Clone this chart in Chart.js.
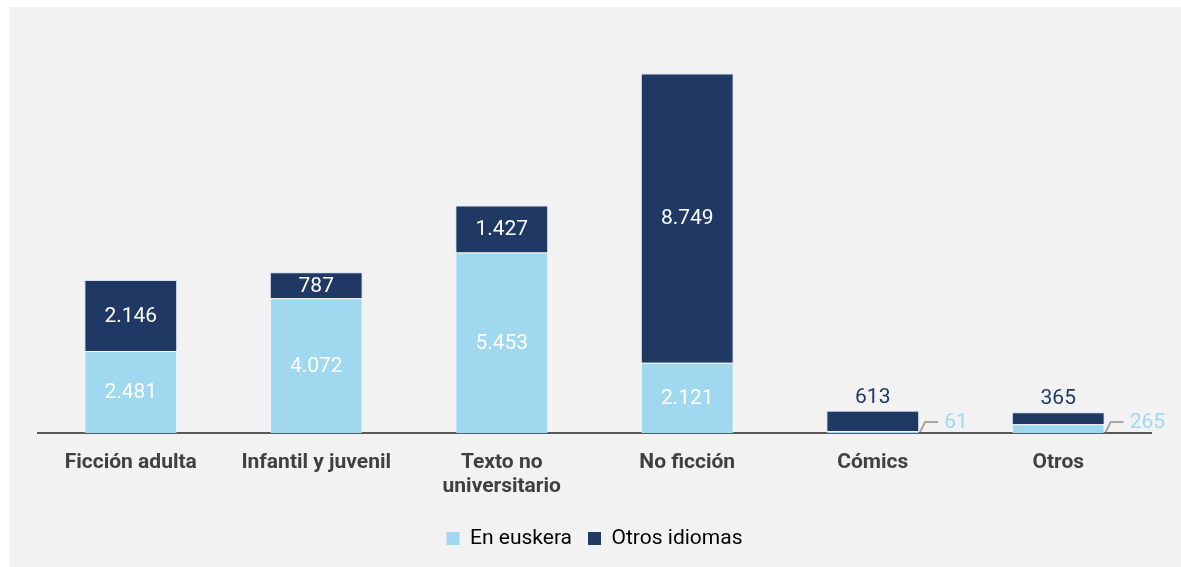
<!DOCTYPE html>
<html>
<head>
<meta charset="utf-8">
<script src="https://cdn.jsdelivr.net/npm/chart.js@4"></script>
<style>
  body { margin: 0; background: #ffffff; }
  #panel { position: absolute; left: 9px; top: 7px; right: 0; bottom: 0; background: #f2f2f2; }
  #wrap { position: absolute; left: 0; top: 0; width: 1181px; height: 567px; }
</style>
</head>
<body>
<div id="panel"></div>
<div id="wrap"><canvas id="myChart" width="1181" height="567"></canvas></div>
<script>
const categories = [
  "Ficción adulta",
  "Infantil y juvenil",
  ["Texto no", "universitario"],
  "No ficción",
  "Cómics",
  "Otros",
];
const enEuskera = [2481, 4072, 5453, 2121, 61, 265];
const otrosIdiomas = [2146, 787, 1427, 8749, 613, 365];
const seriesNames = ["En euskera", "Otros idiomas"];

const lightBlue = "#a0d8ef";
const navy = "#1f3864";

function formatNumber(n) {
  return String(n).replace(/\B(?=(\d{3})+(?!\d))/g, ".");
}

// draws the value labels, small segments go outside the bar
const valueLabels = {
  id: "valueLabels",
  afterDatasetsDraw(chart) {
    const ctx = chart.ctx;
    ctx.save();
    ctx.font = "21px Roboto";
    ctx.textAlign = "center";
    ctx.textBaseline = "middle";
    chart.data.datasets.forEach((ds, di) => {
      const meta = chart.getDatasetMeta(di);
      meta.data.forEach((bar, i) => {
        const value = ds.data[i];
        const text = formatNumber(value);
        const top = Math.min(bar.y, bar.base);
        const bottom = Math.max(bar.y, bar.base);
        const h = bottom - top;
        if (h >= 25) {
          ctx.fillStyle = "#ffffff";
          ctx.textAlign = "center";
          ctx.fillText(text, bar.x, (top + bottom) / 2 + 1);
        } else if (di === 1) {
          ctx.fillStyle = navy;
          ctx.textAlign = "center";
          ctx.fillText(text, bar.x, top - 13);
        } else {
          const right = bar.x + bar.width / 2;
          const axisY = chart.scales.y.getPixelForValue(0);
          const ly = axisY - 11;
          ctx.strokeStyle = "#a6a6a6";
          ctx.lineWidth = 2;
          ctx.beginPath();
          ctx.moveTo(right + 1, axisY - 1);
          ctx.lineTo(right + 6, ly);
          ctx.lineTo(right + 19, ly);
          ctx.stroke();
          ctx.fillStyle = lightBlue;
          ctx.textAlign = "left";
          ctx.fillText(text, right + 25, ly + 1);
        }
      });
    });
    ctx.restore();
  },
};

const ctx = document.getElementById("myChart");

new Chart(ctx, {
  type: "bar",
  data: {
    labels: categories,
    datasets: [
      {
        label: seriesNames[0],
        data: enEuskera,
        backgroundColor: lightBlue,
        borderColor: "rgba(255,255,255,0.35)",
        borderWidth: 1,
        barPercentage: 0.5,
        categoryPercentage: 1,
      },
      {
        label: seriesNames[1],
        data: otrosIdiomas,
        backgroundColor: navy,
        borderColor: "rgba(160,190,230,0.35)",
        borderWidth: 1,
        barPercentage: 0.5,
        categoryPercentage: 1,
      },
    ],
  },
  options: {
    responsive: false,
    animation: false,
    layout: {
      padding: { left: 38, right: 30, top: 36, bottom: 8 },
    },
    plugins: {
      tooltip: { enabled: false },
      legend: {
        position: "bottom",
        labels: {
          boxWidth: 13,
          boxHeight: 13,
          padding: 16,
          color: "#595959",
          font: { family: "Roboto", size: 21 },
          generateLabels(chart) {
            return chart.data.datasets.map((ds, i) => ({
              text: ds.label,
              fillStyle: ds.backgroundColor,
              strokeStyle: ds.backgroundColor,
              lineWidth: 0,
              datasetIndex: i,
            }));
          },
        },
      },
    },
    scales: {
      x: {
        stacked: true,
        grid: { display: false, drawTicks: false },
        border: { display: true, color: "#595959", width: 2 },
        ticks: {
          padding: 18,
          color: "#404040",
          font: { family: "Roboto", size: 21, weight: "bold", lineHeight: 1.15 },
        },
        afterFit(scale) {
          scale.height = 79;
        },
      },
      y: {
        stacked: true,
        display: false,
        min: 0,
        max: 12000,
      },
    },
  },
  plugins: [valueLabels],
});
</script>
</body>
</html>
